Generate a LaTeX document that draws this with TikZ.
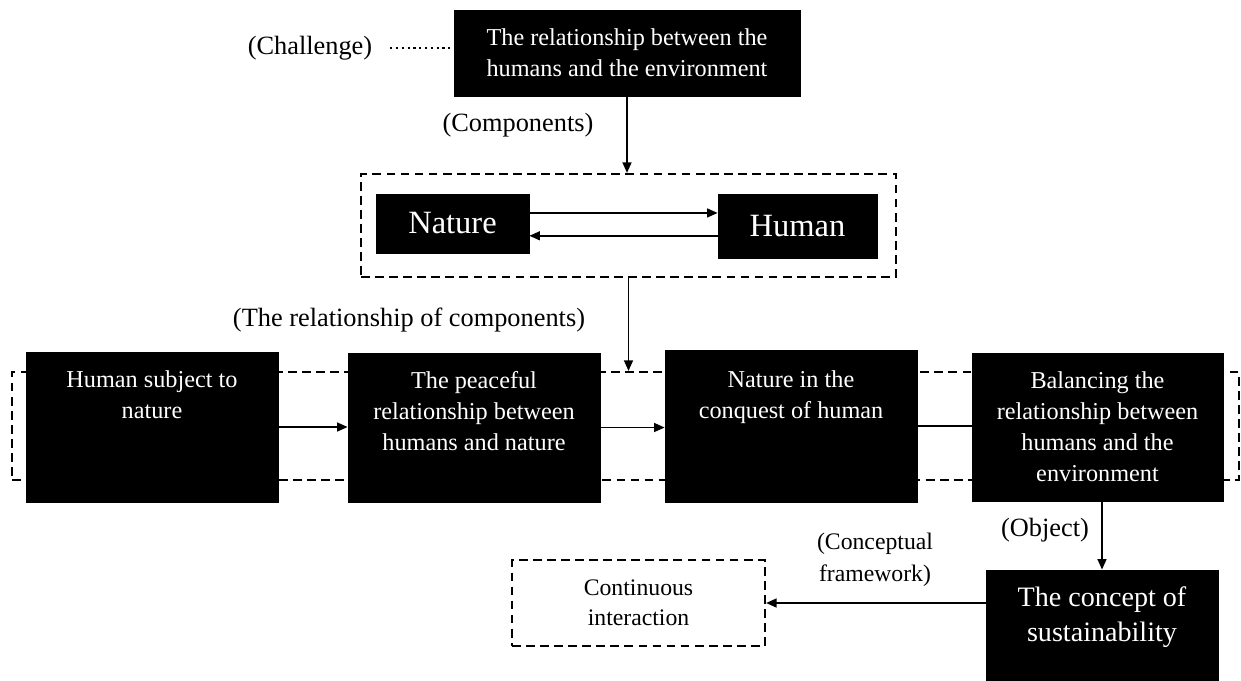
\documentclass[tikz,border=0pt]{standalone}
\usepackage{fontspec}
\setmainfont{Liberation Serif}
\usetikzlibrary{arrows.meta}

\begin{document}
\begin{tikzpicture}[x=0.02cm, y=-0.02cm, >={Triangle[length=6pt,width=5pt]}]

% styles
\tikzstyle{blackbox}=[draw=black, fill=black, inner sep=0pt]
\tikzstyle{dashbox}=[draw=black, line width=1.2pt, dash pattern=on 5pt off 3pt, inner sep=0pt]
\tikzstyle{boxtext}=[text=white, align=center, inner sep=0pt, font=\fontsize{13.8}{17.6}\selectfont]
\tikzstyle{note}=[text=black, align=center, inner sep=2pt, font=\fontsize{15}{18}\selectfont]
\tikzstyle{link}=[line width=1.1pt, ->]

\useasboundingbox (0,0) rectangle (1241,680);

% challenge
\node[blackbox, minimum width=6.92cm, minimum height=1.72cm, boxtext] (rel) at (627,53) {The relationship between the\\humans and the environment};
\node[note] (chal) at (310,48) {(Challenge)};
\draw[dotted, line width=1.3pt] ([xshift=8pt]chal.east) -- (chal.east -| rel.west);

% components
\node[note] (complab) at (518,125) {(Components)};
\node[dashbox, minimum width=10.7cm, minimum height=2.06cm] (compbox) at (628.5,225.5) {};
\node[blackbox, minimum width=3.06cm, minimum height=1.18cm, text=white, font=\fontsize{18.5}{22}\selectfont] (nature) at (452.5,223.5) {Nature};
\node[blackbox, minimum width=3.18cm, minimum height=1.28cm, text=white, font=\fontsize{18.5}{22}\selectfont] (human) at (797.5,226) {Human};

\draw[link] (rel.south) -- (rel.south |- compbox.north);
\draw[link] ([yshift=6pt]nature.east) -- ([yshift=6pt]nature.east -| human.west);
\draw[link] ([yshift=-7pt]nature.east -| human.west) -- ([yshift=-7pt]nature.east);

% relationship of components
\node[note] (rellab) at (409,320) {(The relationship of components)};
\node[dashbox, minimum width=24.54cm, minimum height=2.16cm] (band) at (625.5,426) {};
\draw[link] (compbox.south) -- (compbox.south |- band.north);

\node[blackbox, minimum width=5.04cm, minimum height=3.0cm] (b1) at (152,427) {};
\node[blackbox, minimum width=5.04cm, minimum height=2.98cm] (b2) at (474,427.5) {};
\node[blackbox, minimum width=5.04cm, minimum height=3.04cm] (b3) at (791,426) {};
\node[blackbox, minimum width=5.02cm, minimum height=2.96cm] (b4) at (1097.5,427) {};

\node[boxtext, anchor=north] (b1txt) at ([yshift=-10.5pt]b1.north) {Human subject to\\nature};
\node[boxtext, anchor=north] (b2txt) at ([yshift=-10.5pt]b2.north) {The peaceful\\relationship between\\humans and nature};
\node[boxtext, anchor=north] (b3txt) at ([yshift=-12pt]b3.north) {Nature in the\\conquest of human};
\node[boxtext, anchor=north] (b4txt) at ([yshift=-10.5pt]b4.north) {Balancing the\\relationship between\\humans and the\\environment};

\draw[link] (b1.east) -- (b1.east -| b2.west);
\draw[link] (b2.east) -- (b2.east -| b3.west);
\draw[line width=1.1pt] (b3.east) -- (b3.east -| b4.west);

% sustainability
\node[note] (objlab) at (1045,530) {(Object)};
\node[blackbox, minimum width=4.64cm, minimum height=2.2cm] (sustain) at (1102,625) {};
\node[boxtext, font=\fontsize{16}{20}\selectfont] (sustxt) at (1102,617) {The concept of\\sustainability};
\draw[link] (sustain.north |- b4.south) -- (sustain.north);

\node[dashbox, minimum width=5.06cm, minimum height=1.72cm, align=center, font=\fontsize{13.5}{17}\selectfont] (cont) at (638.5,603) {Continuous\\interaction};
\node[note, font=\fontsize{13.5}{18}\selectfont] (conclab) at (875,560) {(Conceptual\\framework)};
\draw[link] (sustain.west |- cont.east) -- (cont.east);

\end{tikzpicture}
\end{document}
